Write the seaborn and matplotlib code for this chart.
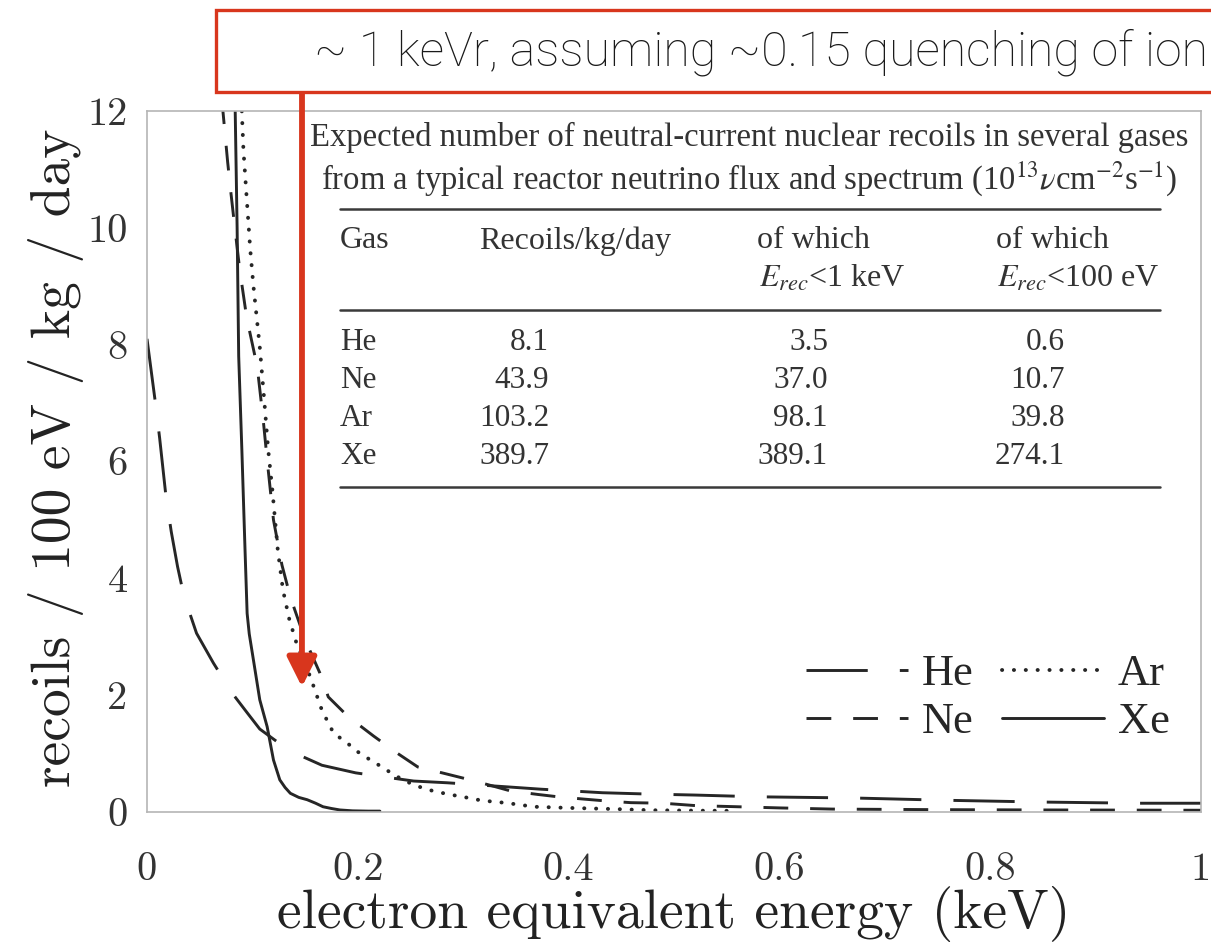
import numpy as np
import pandas as pd
import matplotlib
matplotlib.use("Agg")
import matplotlib.pyplot as plt
import seaborn as sns
from matplotlib.patches import Rectangle

# ---------------- data ----------------
he_x = [0.0, 0.004, 0.008, 0.012, 0.018, 0.023, 0.029, 0.035, 0.047, 0.063, 0.081, 0.095,
        0.107, 0.135, 0.166, 0.198, 0.225, 0.253, 0.285, 0.342, 0.374, 0.432, 0.47, 0.52,
        0.58, 0.67, 0.76, 0.85, 0.94, 1.0]
he_y = [8.1, 7.55, 7.0, 6.4, 5.4, 4.8, 4.2, 3.7, 3.06, 2.55, 2.03, 1.7,
        1.42, 1.05, 0.8, 0.67, 0.6, 0.53, 0.5, 0.43, 0.39, 0.33, 0.31, 0.29,
        0.26, 0.24, 0.2, 0.17, 0.15, 0.15]

ne_x = [0.071, 0.0765, 0.079, 0.0827, 0.088, 0.0946, 0.1046, 0.11, 0.1145, 0.12, 0.128,
        0.136, 0.15, 0.164, 0.172, 0.191, 0.215, 0.238, 0.257, 0.28, 0.30, 0.323, 0.345,
        0.371, 0.39, 0.415, 0.435, 0.459, 0.49, 0.52, 0.56, 0.6, 0.65, 0.75, 0.85, 1.0]
ne_y = [12.2, 11.13, 10.7, 10.1, 9.28, 8.46, 7.62, 6.76, 5.94, 5.0, 4.23,
        3.68, 2.95, 2.38, 1.97, 1.63, 1.3, 1.0, 0.77, 0.67, 0.58, 0.47, 0.36,
        0.3, 0.26, 0.22, 0.19, 0.16, 0.15, 0.11, 0.09, 0.07, 0.05, 0.04, 0.035, 0.03]

ar_x = [0.0895, 0.0915, 0.0947, 0.098, 0.101, 0.104, 0.107, 0.111, 0.115, 0.119, 0.124,
        0.129, 0.135, 0.142, 0.155, 0.166, 0.177, 0.19, 0.2, 0.212, 0.223, 0.234, 0.245,
        0.257, 0.267, 0.279, 0.29, 0.3, 0.31, 0.321, 0.333, 0.343, 0.355, 0.367, 0.4,
        0.445, 0.478, 0.51, 0.55]
ar_y = [12.2, 11.33, 10.48, 9.62, 9.0, 8.48, 7.96, 7.1, 6.2, 5.5, 4.5,
        3.8, 3.3, 2.88, 2.31, 1.74, 1.35, 1.18, 1.03, 0.89, 0.77, 0.64, 0.53,
        0.44, 0.38, 0.33, 0.29, 0.26, 0.22, 0.19, 0.17, 0.15, 0.12, 0.09, 0.07,
        0.05, 0.03, 0.025, 0.02]

xe_x = [0.0835, 0.0855, 0.087, 0.09, 0.093, 0.095, 0.097, 0.101, 0.107, 0.114, 0.12,
        0.126, 0.131, 0.136, 0.144, 0.152, 0.16, 0.167, 0.175, 0.183, 0.195, 0.21, 0.221]
xe_y = [12.2, 10.0, 7.8, 6.2, 4.49, 3.4, 3.05, 2.6, 1.92, 1.46, 0.89,
        0.55, 0.42, 0.32, 0.25, 0.21, 0.15, 0.09, 0.06, 0.035, 0.02, 0.015, 0.015]

gases = ["He", "Ne", "Ar", "Xe"]
recoils_per_kg_day = ["8.1", "43.9", "103.2", "389.7"]
below_1keV = ["3.5", "37.0", "98.1", "389.1"]
below_100eV = ["0.6", "10.7", "39.8", "274.1"]

xticks = [0, 0.2, 0.4, 0.6, 0.8, 1.0]
xticklabels = ["0", "0.2", "0.4", "0.6", "0.8", "1"]
yticks = [0, 2, 4, 6, 8, 10, 12]
yticklabels = ["0", "2", "4", "6", "8", "10", "12"]

xlabel = "electron equivalent energy (keV)"
ylabel = "recoils / 100 eV / kg / day"
table_title1 = "Expected number of neutral-current nuclear recoils in several gases"
table_title2 = r"from a typical reactor neutrino flux and spectrum (10$^{13}$$\nu$cm$^{-2}$s$^{-1}$)"
callout_text = "~ 1 keVr, assuming ~0.15 quenching of ion"
arrow_tip = (0.147, 2.14)   # data coords of the arrow head

# ---------------- style ----------------
sns.set_theme(style="white")
plt.rcParams["mathtext.fontset"] = "stix"
ink = "#262626"
red = "#d8361d"
W, H = 1211, 946
fx = lambda p: p / W
fy = lambda p: 1 - p / H

fig = plt.figure(figsize=(W / 100, H / 100), dpi=100)
fig.patch.set_facecolor("white")
ax = fig.add_axes([fx(147), fy(812), (1201 - 147) / W, (812 - 111) / H])
ax.set_facecolor("white")

lw = 2.1
series = [
    ("He", he_x, he_y, dict(linestyle=(0, (21, 11)))),
    ("Ne", ne_x, ne_y, dict(linestyle=(0, (8.5, 7.5)))),
    ("Ar", ar_x, ar_y, dict(linestyle=(0, (0.05, 3.0)), dash_capstyle="round", lw=2.8)),
    ("Xe", xe_x, xe_y, dict(linestyle="-")),
]
for name, xs, ys, kw in series:
    df = pd.DataFrame({"x": xs, "y": ys})
    kw = dict(kw)
    kw.setdefault("lw", lw)
    sns.lineplot(data=df, x="x", y="y", ax=ax, color=ink, sort=False,
                 estimator=None, errorbar=None, label=name, **kw)

ax.set_xlim(0, 1)
ax.set_ylim(0, 12)
ax.set_xticks(xticks)
ax.set_xticklabels(xticklabels)
ax.set_yticks(yticks)
ax.set_yticklabels(yticklabels)
ax.set_xticks(np.arange(0, 1.0001, 0.05), minor=True)
ax.set_yticks(np.arange(0, 12.001, 0.5), minor=True)
for s in ax.spines.values():
    s.set_color("#b5b5b5")
    s.set_linewidth(1.2)
ax.tick_params(which="both", direction="in", color="#a8a8a8", width=1.0,
               top=False, right=False, labelcolor="#333333")
ax.tick_params(which="major", length=8)
ax.tick_params(which="minor", length=5)
ax.tick_params(axis="x", which="major", pad=29, labelsize=29)
ax.tick_params(axis="y", which="major", pad=14, labelsize=29)
for t in ax.get_xticklabels() + ax.get_yticklabels():
    t.set_fontfamily("cmr10")

ax.set_xlabel(xlabel, fontfamily="cmr10", fontsize=40, color="#222222")
ax.set_ylabel(ylabel, fontfamily="cmr10", fontsize=40, color="#222222")
ax.xaxis.set_label_coords(0.5, (812 - 886) / 701)
ax.yaxis.set_label_coords((84 - 147) / 1054, 0.505)

leg = ax.legend(loc="upper left", bbox_to_anchor=(fx(806), fy(654)),
                bbox_transform=fig.transFigure, ncol=2, frameon=False,
                prop={"family": "Liberation Serif", "size": 32},
                handlelength=2.3, handletextpad=0.3, columnspacing=0.65,
                labelspacing=0.18, borderpad=0, borderaxespad=0)
for t in leg.get_texts():
    t.set_color(ink)

# ---------------- table (upper right) ----------------
tf = fig.transFigure
tkw = dict(transform=tf, family=["Liberation Serif", "DejaVu Serif"], color="#333333", zorder=5)
ax.text(fx(749), fy(137), table_title1, ha="center", va="center", fontsize=23.5, **tkw)
ax.text(fx(749), fy(179), table_title2, ha="center", va="center", fontsize=23.5, **tkw)
for yy in (209, 310, 487):
    ax.plot([fx(340), fx(1160)], [fy(yy), fy(yy)], transform=tf, color="#3a3a3a",
            lw=1.8, clip_on=False, zorder=5)
hs = 23
rs = 22.5
ax.text(fx(340), fy(241), "Gas", ha="left", va="center", fontsize=hs, **tkw)
ax.text(fx(479), fy(241), "Recoils/kg/day", ha="left", va="center", fontsize=hs, **tkw)
ax.text(fx(757), fy(241), "of which", ha="left", va="center", fontsize=hs, **tkw)
ax.text(fx(996), fy(241), "of which", ha="left", va="center", fontsize=hs, **tkw)
ax.text(fx(759), fy(279), r"$E_{rec}$<1 keV", ha="left", va="center", fontsize=hs, **tkw)
ax.text(fx(997), fy(279), r"$E_{rec}$<100 eV", ha="left", va="center", fontsize=hs, **tkw)
row_y = [342, 380, 418, 456]
for g, a, b, c, yy in zip(gases, recoils_per_kg_day, below_1keV, below_100eV, row_y):
    ax.text(fx(340), fy(yy), g, ha="left", va="center", fontsize=rs, **tkw)
    ax.text(fx(549), fy(yy), a, ha="right", va="center", fontsize=rs, **tkw)
    ax.text(fx(828), fy(yy), b, ha="right", va="center", fontsize=rs, **tkw)
    ax.text(fx(1065), fy(yy), c, ha="right", va="center", fontsize=rs, **tkw)

# ---------------- red callout ----------------
box = Rectangle((fx(216), fy(92)), fx(1250) - fx(216), fy(10) - fy(92), transform=tf,
                facecolor="white", edgecolor=red, lw=2.4, zorder=6)
fig.add_artist(box)
fig.text(fx(314), fy(65), callout_text, ha="left", va="baseline", fontsize=34.8,
         family=["Roboto", "DejaVu Sans"], fontweight="light",
         color="#1a1a1a", zorder=7)
ax.annotate("", xy=arrow_tip, xycoords="data", xytext=(fx(302), fy(93)),
            textcoords="figure fraction", annotation_clip=False, zorder=10,
            arrowprops=dict(arrowstyle="-|>,head_length=0.9,head_width=0.45",
                            mutation_scale=20, color=red, lw=4.2,
                            shrinkA=0, shrinkB=0))

fig.savefig("out.png", dpi=100)
